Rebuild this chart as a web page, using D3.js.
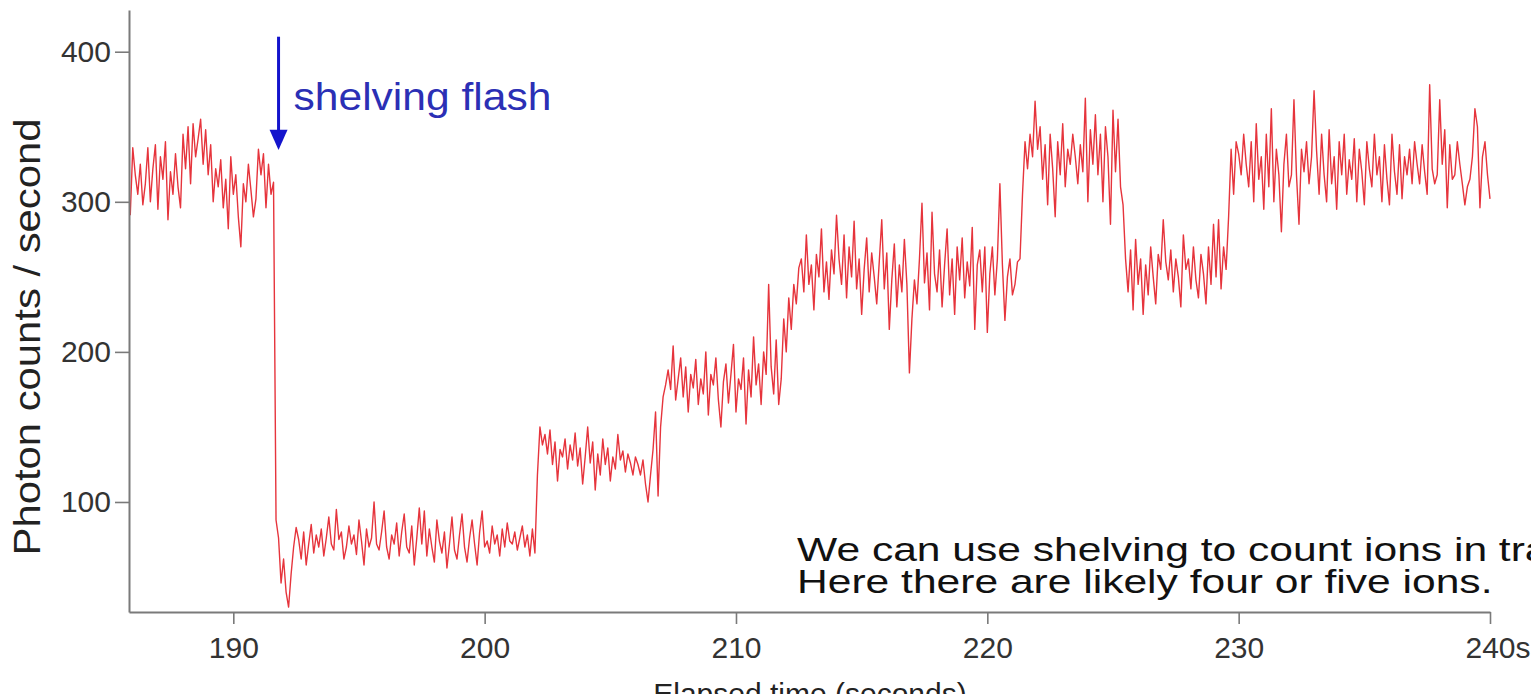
<!DOCTYPE html>
<html>
<head>
<meta charset="utf-8">
<script src="https://cdn.jsdelivr.net/npm/d3@7"></script>
<style>
  html, body { margin: 0; padding: 0; background: #ffffff; overflow: hidden; }
  svg { display: block; }
</style>
</head>
<body>
<svg id="chart" width="1531" height="694"></svg>
<script>
// ---------------- data ----------------
const xTicks = [190, 200, 210, 220, 230, 240];
const yTicks = [100, 200, 300, 400];
const xTitle = "Elapsed time (seconds)";
const yTitle = "Photon counts / second";
const flashLabel = "shelving flash";
const noteLines = ["We can use shelving to count ions in traps.", "Here there are likely four or five ions."];
const flashTime = 191.8;
const sampleStep = 0.1;
const segmentStarts = [185.9, 191.7, 202.1, 207.0, 212.5, 221.3, 225.6, 229.7];

const countsBeforeFlash = [291,336,318,305,325,298,312,336,300,322,
  338,295,330,315,340,288,320,305,332,310,
  296,345,322,350,312,352,330,342,355,325,
  348,318,338,300,322,310,328,296,315,282,
  330,305,318,290,270,312,300,325,308,290,
  302,335,318,332,296,325,305,313];
const countsAllShelved = [88,76,46,62,40,30,52,70,83,75,
  62,80,58,72,85,66,78,70,82,64,
  76,90,72,68,95,75,80,62,70,84,
  72,78,65,88,74,58,82,70,76,100,
  72,68,80,94,70,62,78,72,86,64,
  80,92,70,66,84,58,76,96,72,94,
  64,82,70,60,88,74,66,80,56,72,
  90,68,62,78,92,70,60,76,88,72,
  58,80,94,70,74,66,84,72,78,64,
  82,70,86,74,72,80,68,76,84,70,
  78,64,82,66];
const countsOneIon = [118,150,138,145,132,148,125,140,114,135,
  130,142,122,138,128,146,124,136,112,130,
  150,126,140,108,132,118,142,125,136,114,
  130,122,145,128,134,120,132,126,118,130,
  125,118,128,112,100,118,135,160,104];
const countsTwoIons = [150,170,178,188,175,204,168,182,196,170,
  190,160,185,176,195,165,182,172,200,158,
  185,178,196,168,150,180,192,166,185,205,
  160,182,175,196,152,188,170,210,178,192,
  165,200,185,245,190,172,208,165,182,222,
  200,236,215,245,232];
const countsThreeIons = [256,262,240,278,245,258,228,265,250,282,
  240,260,235,268,252,291,262,245,278,236,
  270,250,287,242,262,225,255,276,240,266,
  250,232,260,288,242,266,215,248,272,230,
  258,240,275,245,186,222,248,232,262,299,
  246,266,228,293,252,240,268,230,258,282,
  238,262,225,270,248,276,236,260,244,283,
  215,258,268,240,270,213,252,270,238,262,
  312,258,221,250,262,238,245,260];
const countsFourIonsA = [262,305,340,322,345,330,367,335,350,315,
  338,298,345,322,290,340,318,352,310,335,
  325,345,330,312,338,320,369,300,348,325,
  358,318,345,300,350,330,285,361,320,355,
  310,298,262];
const countsReshelved = [240,268,228,275,245,262,225,258,238,270,
  250,232,265,255,288,260,248,268,240,262,
  250,230,278,255,262,242,270,248,236,265,
  252,232,270,245,285,250,288,242,270,255,
  290];
const countsFourIonsB = [335,305,340,332,318,345,325,310,340,300,
  352,315,330,295,345,310,362,300,335,318,
  280,325,345,310,318,368,318,285,335,320,
  340,312,330,374,334,305,345,318,300,348,
  312,330,295,340,318,345,305,328,315,342,
  300,335,320,298,340,322,310,345,318,330,
  300,338,315,298,345,320,305,338,302,330,
  318,335,312,340,325,312,338,320,305,378,
  322,312,318,368,325,348,296,338,315,318,
  340,325,312,298,310,315,330,362,350,296,
  330,340,318,302];

const segments = [countsBeforeFlash, countsAllShelved, countsOneIon, countsTwoIons,
  countsThreeIons, countsFourIonsA, countsReshelved, countsFourIonsB];

const series = [];
segments.forEach((vals, s) => {
  vals.forEach((v, i) => series.push({ t: segmentStarts[s] + i * sampleStep, v: v }));
});

// ---------------- layout ----------------
const svg = d3.select("#chart");
const x = d3.scaleLinear().domain([185.85, 240]).range([129, 1490]);
const y = d3.scaleLinear().domain([26.7, 427.8]).range([612, 10]);

const axisColor = "#7a7a7a";
const tickFont = "'Liberation Sans', Arial, Helvetica, sans-serif";

// data line
svg.append("path")
  .datum(series)
  .attr("fill", "none")
  .attr("stroke", "#e6343c")
  .attr("stroke-width", 1.4)
  .attr("stroke-linejoin", "round")
  .attr("d", d3.line().x(d => x(d.t)).y(d => y(d.v)));

// x axis
const xAxis = svg.append("g")
  .attr("transform", `translate(0,${y(26.7)})`)
  .call(d3.axisBottom(x).tickValues(xTicks).tickSize(12).tickSizeOuter(0).tickPadding(13)
    .tickFormat(d => d === 240 ? "240s" : String(d)));
xAxis.select(".domain").attr("stroke", axisColor).attr("stroke-width", 2);
xAxis.selectAll(".tick line").attr("stroke", axisColor).attr("stroke-width", 1.6);
xAxis.selectAll(".tick text")
  .attr("fill", "#333").style("font-family", tickFont).style("font-size", "30px")
  .filter(d => d === 240).attr("text-anchor", "start").attr("x", -25);

// y axis
const yAxis = svg.append("g")
  .attr("transform", `translate(${x(185.85)},0)`)
  .call(d3.axisLeft(y).tickValues(yTicks).tickSize(14).tickSizeOuter(0).tickPadding(4));
yAxis.select(".domain").attr("stroke", axisColor).attr("stroke-width", 2);
yAxis.selectAll(".tick line").attr("stroke", axisColor).attr("stroke-width", 1.6);
yAxis.selectAll(".tick text")
  .attr("fill", "#333").style("font-family", tickFont).style("font-size", "30px");

// axis titles
svg.append("text")
  .attr("transform", "translate(40,337) rotate(-90)")
  .attr("text-anchor", "middle")
  .attr("fill", "#222")
  .attr("textLength", 437)
  .attr("lengthAdjust", "spacingAndGlyphs")
  .style("font-family", tickFont).style("font-size", "37px")
  .text(yTitle);

svg.append("text")
  .attr("x", 810).attr("y", 704)
  .attr("text-anchor", "middle")
  .attr("fill", "#222")
  .style("font-family", tickFont).style("font-size", "30px")
  .text(xTitle);

// shelving flash arrow
const ax = x(flashTime);
svg.append("line")
  .attr("x1", ax).attr("x2", ax)
  .attr("y1", y(410)).attr("y2", y(347))
  .attr("stroke", "#1414cc").attr("stroke-width", 3);
svg.append("path")
  .attr("d", `M${ax - 9},${y(348)} L${ax + 9},${y(348)} L${ax},${y(334.5)} Z`)
  .attr("fill", "#1414cc");

svg.append("g")
  .attr("transform", `translate(${ax + 15},110) scale(1.12,1)`)
  .append("text")
  .attr("x", 0).attr("y", 0)
  .attr("fill", "#2b2fb5")
  .style("font-family", tickFont).style("font-size", "38px")
  .text(flashLabel);

// note
const note = svg.append("g").attr("transform", "translate(797,0) scale(1.29,1)");
note.selectAll("text").data(noteLines).join("text")
  .attr("x", 0).attr("y", (d, i) => 561 + i * 32)
  .attr("fill", "#111")
  .style("font-family", tickFont).style("font-size", "33px")
  .text(d => d);
</script>
</body>
</html>
